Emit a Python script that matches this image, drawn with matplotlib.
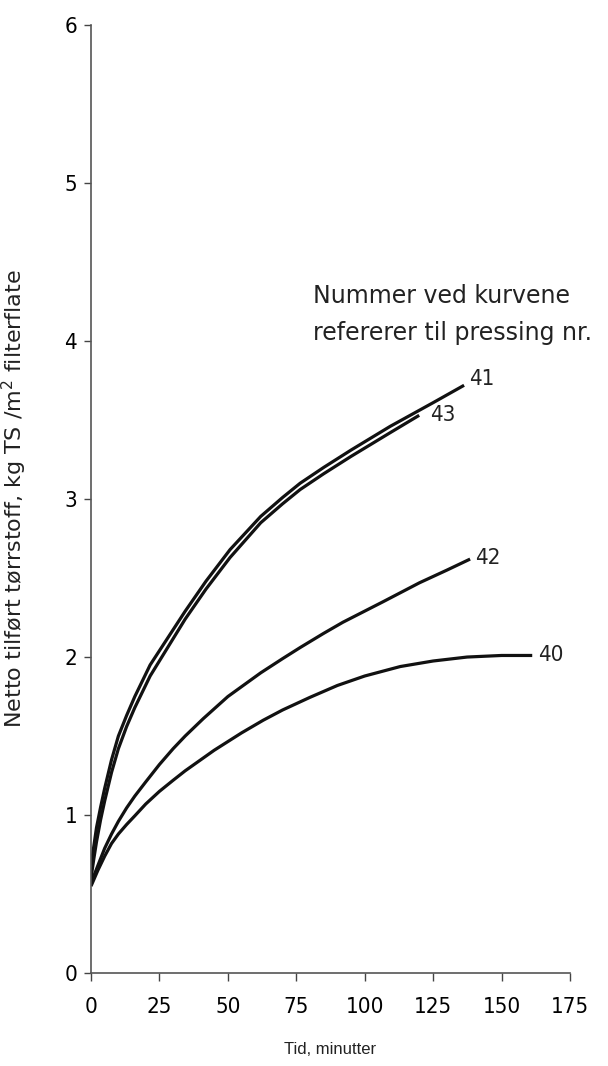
import matplotlib
matplotlib.use('Agg')
import matplotlib.pyplot as plt

# time (min) vs net dry matter (kg TS/m2)
x41 = [0, 1, 2, 3.5, 5, 7.5, 10, 13, 16, 21.6, 28, 34.4, 42, 50.8, 62, 70, 76.4, 85, 95, 109.3, 125, 136.3]
y41 = [0.68, 0.8, 0.92, 1.05, 1.17, 1.35, 1.5, 1.63, 1.75, 1.95, 2.12, 2.29, 2.48, 2.68, 2.89, 3.01, 3.10, 3.20, 3.31, 3.46, 3.61, 3.72]

x43 = [0, 1, 2, 3.5, 5, 7.5, 10, 13, 16, 21.6, 28, 34.4, 42, 50.8, 62, 70, 76.4, 85, 95, 109.3, 119.9]
y43 = [0.6, 0.72, 0.83, 0.97, 1.09, 1.27, 1.42, 1.56, 1.68, 1.88, 2.06, 2.24, 2.43, 2.63, 2.85, 2.97, 3.06, 3.16, 3.27, 3.42, 3.53]

x42 = [0, 2.5, 5, 7.5, 10, 13, 16, 20, 25, 30, 34.4, 41, 50, 62, 70, 76.4, 85, 92, 106.7, 120, 130, 138.5]
y42 = [0.57, 0.68, 0.79, 0.88, 0.96, 1.045, 1.12, 1.21, 1.32, 1.42, 1.50, 1.61, 1.75, 1.90, 1.99, 2.06, 2.15, 2.22, 2.35, 2.47, 2.55, 2.62]

x40 = [0, 2.5, 5, 7.5, 10, 13, 16, 20, 25, 30, 34.4, 45, 55, 62.9, 70, 80, 90, 100, 113, 125, 137.4, 150, 161.2]
y40 = [0.55, 0.65, 0.74, 0.82, 0.88, 0.94, 0.995, 1.07, 1.15, 1.22, 1.28, 1.41, 1.52, 1.60, 1.665, 1.745, 1.82, 1.88, 1.94, 1.975, 2.0, 2.01, 2.01]

curves = [('41', x41, y41, (138.2, 3.76)),
          ('43', x43, y43, (123.9, 3.53)),
          ('42', x42, y42, (140.4, 2.63)),
          ('40', x40, y40, (163.4, 2.01))]

xticks = [0, 25, 50, 75, 100, 125, 150, 175]
yticks = [0, 1, 2, 3, 4, 5, 6]

fig = plt.figure(figsize=(6.08, 10.66), dpi=100)
ax = fig.add_axes([0.1497, 0.0872, 0.9375 - 0.1497, 0.9765 - 0.0872])

for name, xs, ys, pos in curves:
    ax.plot(xs, ys, color='#111111', lw=2.3, solid_capstyle='butt', solid_joinstyle='round')
    ax.text(pos[0], pos[1], name, fontsize=16, family='DejaVu Sans', fontstretch='condensed',
            ha='left', va='center', color='#222222')

ax.text(81, 4.36, 'Nummer ved kurvene\nrefererer til pressing nr.', fontsize=17,
        family='DejaVu Sans', ha='left', va='top', linespacing=1.68, color='#222222')

ax.set_xlim(0, 175)
ax.set_ylim(0, 6)
ax.set_xticks(xticks)
ax.set_yticks(yticks)
ax.set_xticklabels([str(t) for t in xticks], family='DejaVu Sans', fontstretch='condensed', fontsize=16)
ax.set_yticklabels([str(t) for t in yticks], family='DejaVu Sans', fontstretch='condensed', fontsize=16)
ax.tick_params(axis='x', direction='out', length=6, width=1, color='#444444', pad=11)
ax.tick_params(axis='y', direction='out', length=5, width=1, color='#444444', pad=5)

for s in ['top', 'right']:
    ax.spines[s].set_visible(False)
for s in ['left', 'bottom']:
    ax.spines[s].set_color('#555555')
    ax.spines[s].set_linewidth(1.2)

ax.set_xlabel('Tid, minutter', family='Liberation Sans', fontsize=12, labelpad=18, color='#222222')
ax.set_ylabel('Netto tilført tørrstoff, kg TS /m$^2$ filterflate', family='DejaVu Sans',
              fontsize=16, color='#222222')
ax.yaxis.set_label_coords(-0.13, 0.5)

fig.savefig('out.png', dpi=100)
